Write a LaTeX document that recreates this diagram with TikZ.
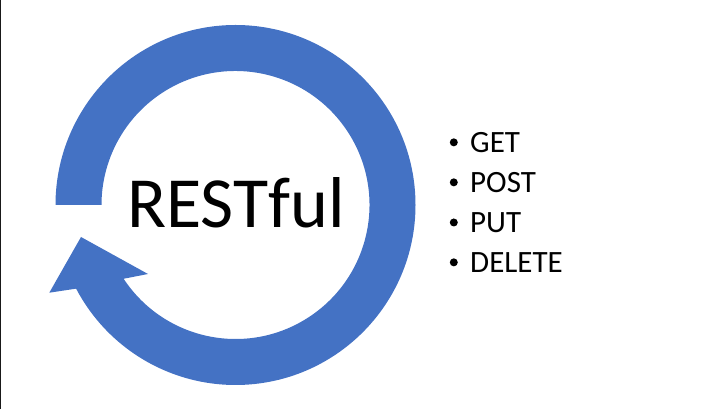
\documentclass[tikz,border=0pt]{standalone}
\usepackage{fontspec}
\setmainfont{Carlito}
\usetikzlibrary{positioning}
\definecolor{ringblue}{HTML}{4472C4}

\begin{document}
\begin{tikzpicture}[x=1pt, y=1pt]
  \tikzstyle{title} = [inner sep=0pt, anchor=base, font=\fontsize{72}{80}\selectfont]
  \tikzstyle{item} = [inner sep=0pt, anchor=base west, font=\fontsize{31}{36}\selectfont]
  \tikzstyle{dot} = [circle, fill=black, inner sep=0pt, minimum size=8pt]

  \useasboundingbox (0,0) rectangle (720,409);
  \draw[line width=1.3pt, black!90] (0.65,0) -- (0.65,409);

  % cycle arrow
  \coordinate (hub) at (235.5,204);
  \coordinate (barbout) at (49.3,116.3);
  \coordinate (tip) at (81,172);
  \coordinate (barbin) at (148,135);
  \coordinate (shaftin) at ([shift={(-146.6:134)}]hub);
  \fill[ringblue] ([shift={(180:180)}]hub) arc[start angle=180, end angle=-152.3, radius=180pt]
    -- (barbout) -- (tip) -- (barbin) -- (shaftin)
    arc[start angle=-146.6, end angle=180, radius=134pt] -- cycle;

  \node[title] (rest) at (236,181.7) {RESTful};

  % methods
  \node[item] (get) at (470,256.7) {GET};
  \node[item, below=40pt of get.base west, anchor=base west] (post) {POST};
  \node[item, below=40pt of post.base west, anchor=base west] (put) {PUT};
  \node[item, below=40pt of put.base west, anchor=base west] (delete) {DELETE};

  \node[dot, left=12pt of get] (dotget) {};
  \node[dot, left=12pt of post] (dotpost) {};
  \node[dot, left=12pt of put] (dotput) {};
  \node[dot, left=12pt of delete] (dotdelete) {};

\end{tikzpicture}
\end{document}
